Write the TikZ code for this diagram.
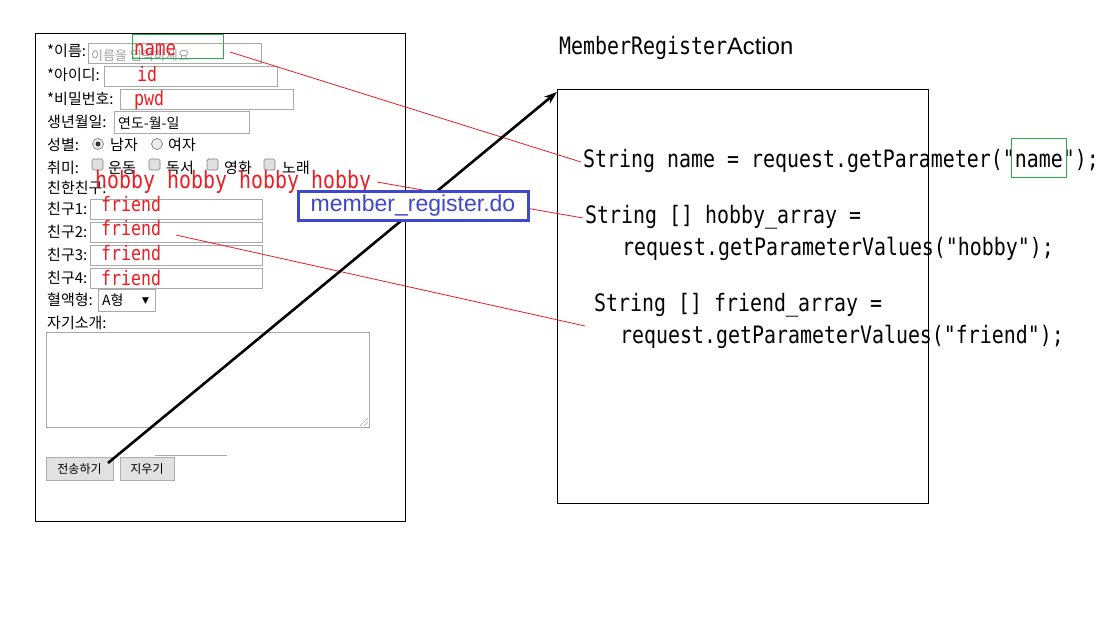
\documentclass[tikz,border=0pt]{standalone}
\usepackage{fontspec}
\setmainfont{Liberation Sans}
\newfontfamily\krf{Noto Sans CJK KR}
\newfontfamily\codef[FakeStretch=0.83]{DejaVu Sans Mono}
\newfontfamily\symf{DejaVu Sans}
\usetikzlibrary{arrows.meta}
\definecolor{boxgray}{HTML}{A9A9A9}
\definecolor{btnfill}{HTML}{E1E1E1}
\definecolor{btnline}{HTML}{ADADAD}
\definecolor{annred}{HTML}{ED1C24}
\definecolor{anngreen}{HTML}{22B14C}
\definecolor{annblue}{HTML}{3F48CC}
\definecolor{phgray}{HTML}{A0A0A0}
\begin{document}
\begin{tikzpicture}[x=1pt,y=-1pt,
  lbl/.style={anchor=base west, inner sep=0, font=\krf\fontsize{15}{18}\selectfont},
  smalltxt/.style={anchor=base west, inner sep=0, font=\krf\fontsize{14}{16}\selectfont},
  fieldbox/.style={draw=boxgray, line width=1pt},
  redlbl/.style={anchor=base west, inner sep=0, text=annred, font=\codef\fontsize{20}{24}\selectfont},
  codetxt/.style={anchor=base west, inner sep=0, font=\codef\fontsize{24}{28}\selectfont},
  redline/.style={draw=annred, line width=0.8pt},
  greenbox/.style={draw=anngreen, line width=1pt},
  btn/.style={draw=btnline, fill=btnfill, line width=0.8pt, inner sep=0, font=\krf\fontsize{12}{14}\selectfont},
  radiob/.style={draw=gray, fill=gray!15, line width=0.7pt},
  chkb/.style={draw=gray, fill=gray!25, line width=0.7pt, rounded corners=1.5pt},
  blackarrow/.style={line width=2.6pt, -{Stealth[length=13pt,width=9pt]}}
]
\useasboundingbox[fill=white] (0,0) rectangle (1112,627);

% ---------- form ----------
\draw[line width=1pt] (35,33) rectangle (405,521);

\node[lbl] (l1) at (47,56) {*이름:};
\node[lbl] (l2) at (47,80) {*아이디:};
\node[lbl] (l3) at (47,104) {*비밀번호:};
\node[lbl] (l4) at (47,127) {생년월일:};
\node[lbl] (l5) at (47,150) {성별:};
\node[lbl] (l6) at (47,173) {취미:};
\node[lbl] (l7) at (47,193) {친한친구:};
\node[lbl] (l8) at (47,214) {친구1:};
\node[lbl] (l9) at (47,237) {친구2:};
\node[lbl] (l10) at (47,260) {친구3:};
\node[lbl] (l11) at (47,283) {친구4:};
\node[lbl] (l12) at (47,305) {혈액형:};
\node[lbl] (l13) at (47,328) {자기소개:};

% input fields
\draw[fieldbox] (88,43) rectangle (261,63);
\draw[fieldbox] (104,66) rectangle (277,86);
\draw[fieldbox] (120,89) rectangle (293,109);
\draw[fieldbox] (114,111) rectangle (249,133);
\draw[fieldbox] (90,199) rectangle (262,219);
\draw[fieldbox] (90,222) rectangle (262,242);
\draw[fieldbox] (90,245) rectangle (262,265);
\draw[fieldbox] (90,268) rectangle (262,288);
\draw[fieldbox] (98,289) rectangle (155,311);
\draw[fieldbox] (46,332) rectangle (369,427);
\draw[boxgray, line width=0.6pt] (360,426) -- (368,418) (364,426) -- (368,422);
\draw[boxgray, line width=0.8pt] (155,455) -- (227,455);

\node[anchor=base west, inner sep=0, text=phgray, font=\krf\fontsize{13}{15}\selectfont] (ph) at (91,60) {이름을 입력하세요};
\node[smalltxt] (date) at (118,128) {연도-월-일};
\node[smalltxt] (sel) at (102,305) {A형};
\node[anchor=base west, inner sep=0, font=\symf\fontsize{9}{10}\selectfont] (selarr) at (142,303) {▼};

% radios
\draw[radiob] (98,144) circle (5.5);
\fill[gray!40!black] (98,144) circle (2.5);
\node[lbl] (male) at (110,150) {남자};
\draw[radiob] (157,144) circle (5.5);
\node[lbl] (female) at (168,150) {여자};

% checkboxes
\draw[chkb] (92,159) rectangle (103,170);
\node[lbl] (h1) at (108,173) {운동};
\draw[chkb] (149,159) rectangle (160,170);
\node[lbl] (h2) at (166,173) {독서};
\draw[chkb] (207,159) rectangle (218,170);
\node[lbl] (h3) at (224,173) {영화};
\draw[chkb] (264,159) rectangle (275,170);
\node[lbl] (h4) at (282,173) {노래};

% buttons
\node[btn, minimum width=67pt, minimum height=23pt] (send) at (79.5,468.5) {전송하기};
\node[btn, minimum width=54pt, minimum height=23pt] (clear) at (147,468.5) {지우기};

% ---------- red annotations on form ----------
\node[anchor=base west, inner sep=0, text=annred, font=\codef\fontsize{21}{24}\selectfont] (rname) at (134,55) {name};
\draw[greenbox] (132,34) rectangle (223,58);
\node[redlbl] (rid) at (137,81) {id};
\node[redlbl] (rpwd) at (134,105) {pwd};
\node[codetxt, text=annred] (rhobby) at (95,188) {hobby hobby hobby hobby};
\node[redlbl] (rf1) at (101,211) {friend};
\node[redlbl] (rf2) at (101,235) {friend};
\node[redlbl] (rf3) at (101,260) {friend};
\node[redlbl] (rf4) at (101,285) {friend};

% ---------- action box ----------
\node[codetxt] (title) at (559,54) {MemberRegister{\rmfamily\fontsize{23.8}{28}\selectfont Action}};
\node[draw, line width=1pt, minimum width=371pt, minimum height=414pt, anchor=north west, inner sep=0] (act) at (557,89) {};

\node[codetxt] (c1) at (583,167) {String name = request.getParameter("name");};
\draw[greenbox] (1011,138) rectangle (1066,177);
\node[codetxt] (c2) at (585,223) {String [] hobby\_array =};
\node[codetxt] (c3) at (622,255) {request.getParameterValues("hobby");};
\node[codetxt] (c4) at (594,311) {String [] friend\_array =};
\node[codetxt] (c5) at (620,343) {request.getParameterValues("friend");};

% ---------- connectors ----------
\coordinate (nameA) at (230,52);
\coordinate (nameB) at (581,162);
\coordinate (hobA) at (377,182);
\coordinate (hobB) at (583,218);
\coordinate (frA) at (176,235);
\coordinate (frB) at (585,326);
\draw[redline] (nameA) -- (nameB);
\draw[redline] (hobA) -- (hobB);
\draw[redline] (frA) -- (frB);

\coordinate (sendP) at (108,463);
\coordinate (actP) at (557,92);
\draw[blackarrow] (sendP) -- (actP);

\node[draw=annblue, line width=3pt, fill=white, text=annblue, font=\fontsize{23}{27}\selectfont, minimum width=230pt, minimum height=29pt, inner sep=0] (url) at (413,205.5) {member\_register.do};
\end{tikzpicture}
\end{document}
